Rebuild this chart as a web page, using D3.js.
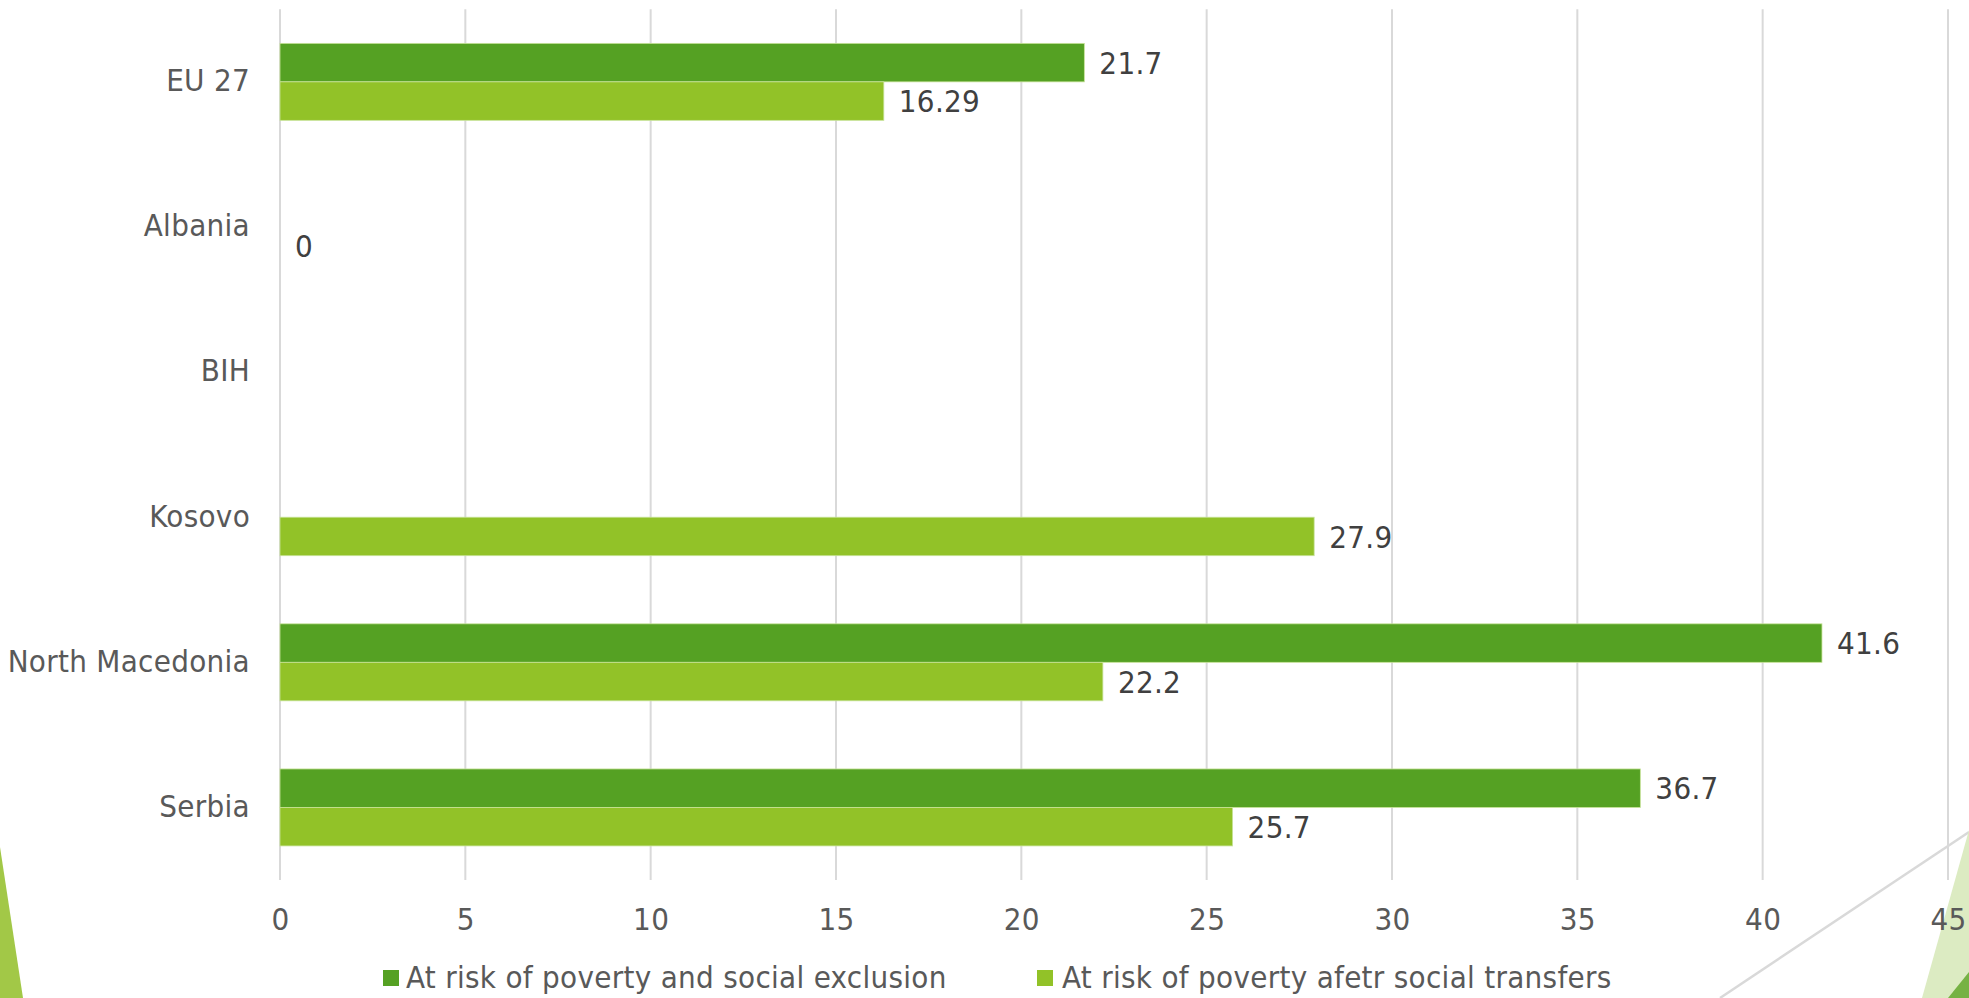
<!DOCTYPE html>
<html>
<head>
<meta charset="utf-8">
<script src="https://cdn.jsdelivr.net/npm/d3@7"></script>
<style>
  html, body { margin: 0; padding: 0; background: #ffffff; }
  svg { display: block; }
  text { font-family: "DejaVu Sans Condensed", "DejaVu Sans", sans-serif; letter-spacing: 0.3px; }
</style>
</head>
<body>
<svg id="chart" width="1969" height="998"></svg>
<script>
// ---- data ----
const categories = ["EU 27", "Albania", "BIH", "Kosovo", "North Macedonia", "Serbia"];
const seriesNames = ["At risk of poverty and social exclusion", "At risk of poverty afetr social transfers"];
const exclusionValues = [21.7, null, null, null, 41.6, 36.7];
const transfersValues = [16.29, 0, null, 27.9, 22.2, 25.7];
const xTicks = [0, 5, 10, 15, 20, 25, 30, 35, 40, 45];
const seriesColors = ["#55a123", "#92c228"];

// ---- layout ----
const W = 1969, H = 998;
const plot = { left: 280, right: 1948, top: 9.3, bottom: 880 };
const FS = "31px";
const svg = d3.select("#chart");

// slide decorations (Facet theme corners)
svg.append("polygon").attr("points", `0,847 0,998 23,998`).attr("fill", "#a2c847");
svg.append("line").attr("x1", 1720).attr("y1", 998).attr("x2", 1969).attr("y2", 832)
  .attr("stroke", "#d9d9d9").attr("stroke-width", 2.5);
svg.append("polygon").attr("points", `1922,998 1969,830 1969,998`).attr("fill", "#dcebc2");
svg.append("polygon").attr("points", `1948,998 1969,972 1969,998`).attr("fill", "#76b244");

const x = d3.scaleLinear().domain([0, 45]).range([plot.left, plot.right]);
const y = d3.scaleBand().domain(categories).range([plot.top, plot.bottom]).paddingInner(0).paddingOuter(0);
const ySub = d3.scaleBand().domain([0, 1]).range([0, y.bandwidth()]).paddingInner(0).paddingOuter(0.885);

// gridlines
svg.append("g").selectAll("line").data(xTicks).join("line")
  .attr("x1", d => x(d)).attr("x2", d => x(d))
  .attr("y1", plot.top).attr("y2", plot.bottom)
  .attr("stroke", "#d9d9d9").attr("stroke-width", 2);

// x axis labels
const xAxis = d3.axisBottom(x).tickValues(xTicks).tickSize(0).tickPadding(0).tickFormat(d3.format("d"));
const gx = svg.append("g").attr("transform", `translate(0, ${plot.bottom})`).call(xAxis);
gx.select(".domain").remove();
gx.selectAll("text").attr("y", 39).attr("dy", "0.35em")
  .attr("fill", "#595959").style("font-size", FS)
  .style("font-family", '"DejaVu Sans Condensed", "DejaVu Sans", sans-serif');

// y axis labels
const yAxis = d3.axisLeft(y).tickSize(0).tickPadding(30);
const gy = svg.append("g").attr("transform", `translate(${plot.left}, 0)`).call(yAxis);
gy.select(".domain").remove();
gy.selectAll("text").attr("dy", "0.3em")
  .attr("fill", "#595959").style("font-size", FS)
  .style("font-family", '"DejaVu Sans Condensed", "DejaVu Sans", sans-serif');

// bars
const seriesData = [exclusionValues, transfersValues];
seriesData.forEach((vals, si) => {
  const rows = categories.map((c, i) => ({ c, v: vals[i] })).filter(d => d.v !== null);
  const g = svg.append("g");
  g.selectAll("rect").data(rows).join("rect")
    .attr("x", x(0))
    .attr("y", d => y(d.c) + ySub(si))
    .attr("width", d => x(d.v) - x(0))
    .attr("height", ySub.bandwidth())
    .attr("fill", seriesColors[si])
    .attr("stroke", "#c8e39a").attr("stroke-width", 0.8);
  g.selectAll("text").data(rows).join("text")
    .attr("x", d => x(d.v) + 15)
    .attr("y", d => y(d.c) + ySub(si) + ySub.bandwidth() / 2)
    .attr("dy", "0.36em")
    .attr("fill", "#404040").style("font-size", FS)
    .text(d => d.v);
});

// legend
const legendItems = [
  { name: seriesNames[0], color: seriesColors[0], sx: 383, tx: 406 },
  { name: seriesNames[1], color: seriesColors[1], sx: 1037, tx: 1062 }
];
const lg = svg.append("g");
legendItems.forEach(it => {
  lg.append("rect").attr("x", it.sx).attr("y", 970).attr("width", 16).attr("height", 16).attr("fill", it.color);
  lg.append("text").attr("x", it.tx).attr("y", 977).attr("dy", "0.36em")
    .attr("fill", "#595959").style("font-size", FS).text(it.name);
});
</script>
</body>
</html>
